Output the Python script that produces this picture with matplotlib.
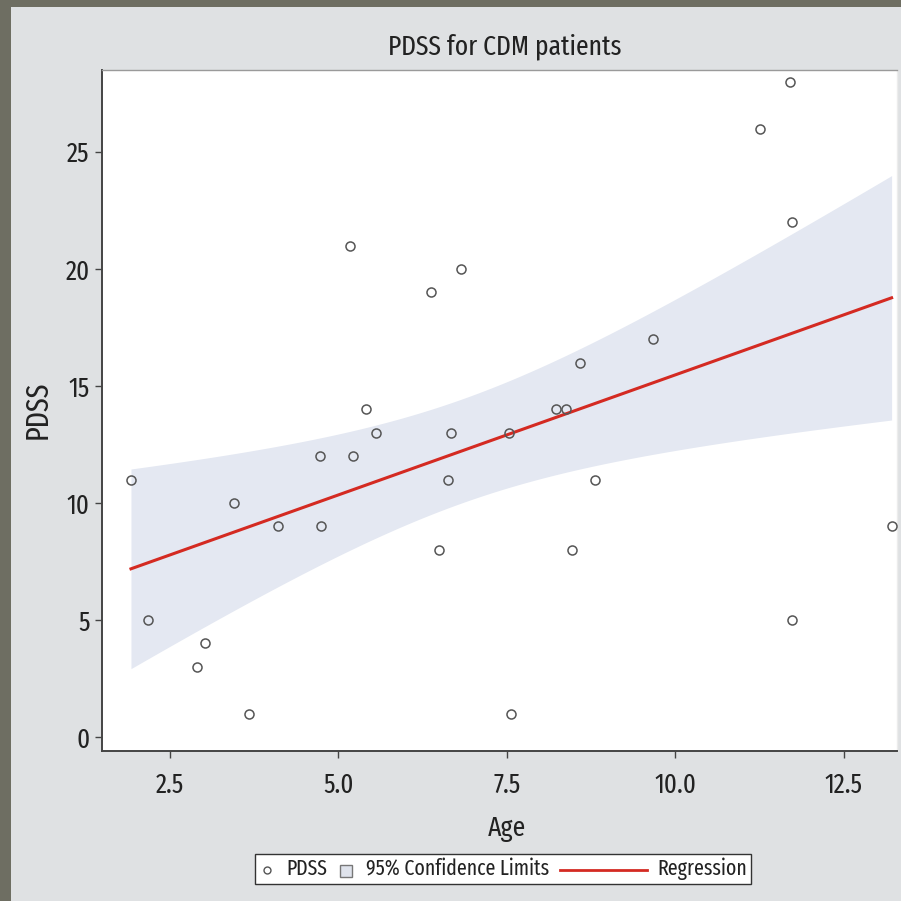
import numpy as np
import matplotlib
matplotlib.use('Agg')
import matplotlib.pyplot as plt
from matplotlib.patches import Rectangle
from matplotlib.lines import Line2D
from matplotlib.offsetbox import DrawingArea, TextArea, HPacker, AnchoredOffsetbox

plt.rcParams['font.family'] = ['Fira Sans Extra Condensed', 'Roboto Condensed', 'DejaVu Sans']

# data
age = [1.92, 2.17, 2.90, 3.02, 3.45, 3.67, 4.10, 4.73, 4.74, 5.17, 5.22,
       5.41, 5.56, 6.37, 6.49, 6.62, 6.67, 6.82, 7.53, 7.56, 8.23, 8.38,
       8.46, 8.58, 8.81, 9.67, 11.25, 11.70, 11.73, 11.73, 13.21]
pdss = [11, 5, 3, 4, 10, 1, 9, 12, 9, 21, 12,
        14, 13, 19, 8, 11, 13, 20, 13, 1, 14, 14,
        8, 16, 11, 17, 26, 28, 22, 5, 9]
xticks = [2.5, 5.0, 7.5, 10.0, 12.5]
xticklabels = ['2.5', '5.0', '7.5', '10.0', '12.5']
yticks = [0, 5, 10, 15, 20, 25]

title = 'PDSS for CDM patients'
xlabel = 'Age'
ylabel = 'PDSS'
legend_labels = ['PDSS', '95% Confidence Limits', 'Regression']

# regression with 95% confidence limits for the mean
x = np.array(age)
y = np.array(pdss)
n = len(x)
slope, intercept = np.polyfit(x, y, 1)
xs = np.linspace(x.min(), x.max(), 200)
yhat = intercept + slope * xs
resid = y - (intercept + slope * x)
s = np.sqrt(np.sum(resid ** 2) / (n - 2))
sxx = np.sum((x - x.mean()) ** 2)
tval = 2.045
se = s * np.sqrt(1.0 / n + (xs - x.mean()) ** 2 / sxx)
lo = yhat - tval * se
hi = yhat + tval * se

W = H = 901
fig = plt.figure(figsize=(9.01, 9.01), dpi=100)
fig.patch.set_facecolor('#6e6e62')
fig.add_artist(Rectangle((11 / W, 0), 1, 1 - 7 / H, transform=fig.transFigure,
                         facecolor='#dfe1e3', edgecolor='none', zorder=0))

ax = fig.add_axes([102 / W, 1 - 751 / H, (897 - 102) / W, (751 - 70) / H])
ax.set_facecolor('white')
band_color = '#e4e8f2'
ax.fill_between(xs, lo, hi, color=band_color, linewidth=0, zorder=1)
ax.plot(xs, yhat, color='#d42a22', linewidth=2.2, zorder=2)
ax.plot(x, y, linestyle='none', marker='o', markersize=6.5, markerfacecolor='none',
        markeredgecolor='#555555', markeredgewidth=1.1, zorder=3)

ax.set_xlim(1.49, 13.29)
ax.set_ylim(-0.6, 28.5)
ax.set_xticks(xticks)
ax.set_xticklabels(xticklabels)
ax.set_yticks(yticks)
ax.tick_params(axis='both', direction='out', length=5, width=1, color='#444444',
               labelsize=19.5, labelcolor='#222222')
ax.tick_params(axis='x', pad=10)
ax.tick_params(axis='y', pad=4)
for side in ['left', 'bottom']:
    ax.spines[side].set_color('#444444')
    ax.spines[side].set_linewidth(1.4)
ax.spines['top'].set_color('#9a9a9a')
ax.spines['top'].set_linewidth(1.0)
ax.spines['right'].set_color('#ececec')
ax.spines['right'].set_linewidth(1.0)

fig.text(505 / W, 1 - 47 / H, title, ha='center', va='center', fontsize=20, color='#222222')
fig.text(507 / W, 1 - 829 / H, xlabel, ha='center', va='center', fontsize=20, color='#222222')
fig.text(38 / W, 1 - 410 / H, ylabel, ha='center', va='center', rotation=90, fontsize=22,
         color='#222222')

# legend built from offset boxes
fs = 15.5
tprops = dict(fontsize=fs, color='#222222')
da1 = DrawingArea(12, 14, 0, 0)
da1.add_artist(Line2D([6], [6], linestyle='none', marker='o', markersize=5,
                      markerfacecolor='none', markeredgecolor='#555555', markeredgewidth=1.0))
da2 = DrawingArea(12, 14, 0, 0)
da2.add_artist(Rectangle((1, 1), 9, 9, facecolor='#dfe3ec', edgecolor='#777777', linewidth=1.0))
da3 = DrawingArea(62, 14, 0, 0)
da3.add_artist(Line2D([0, 62], [6, 6], color='#d42a22', linewidth=2.0))
items = [da1, TextArea(legend_labels[0], textprops=tprops),
         da2, TextArea(legend_labels[1], textprops=tprops),
         da3, TextArea(legend_labels[2], textprops=tprops)]
box = HPacker(children=items, align='center', pad=0, sep=8)
anch = AnchoredOffsetbox(loc='center', child=box, pad=0.25, borderpad=0,
                         bbox_to_anchor=(503 / W, 1 - 869 / H),
                         bbox_transform=fig.transFigure, frameon=True)
anch.patch.set_facecolor('white')
anch.patch.set_edgecolor('#333333')
anch.patch.set_linewidth(1.0)
anch.patch.set_boxstyle('square', pad=0)
fig.add_artist(anch)

fig.savefig('out.png', dpi=100, facecolor=fig.get_facecolor())
